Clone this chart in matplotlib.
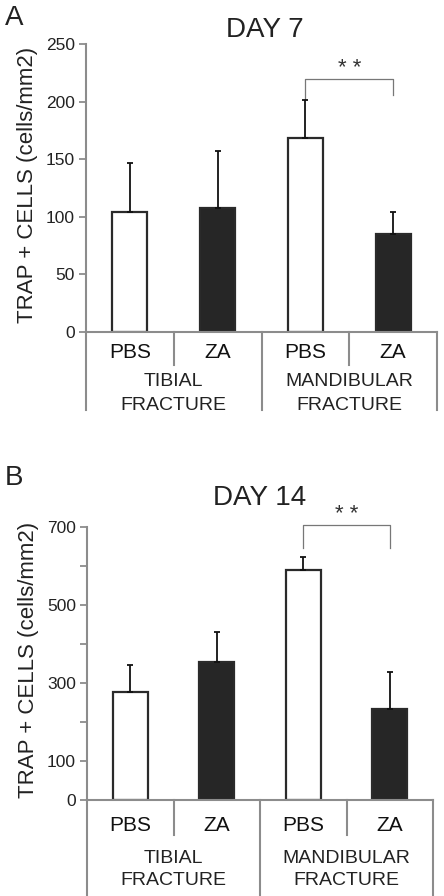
import matplotlib
matplotlib.use("Agg")
import matplotlib.pyplot as plt
from matplotlib.transforms import offset_copy

plt.rcParams["font.family"] = ["Liberation Sans", "DejaVu Sans"]

# ---------------------------------------------------------------------------
# Data
# ---------------------------------------------------------------------------
treatments = ["PBS", "ZA", "PBS", "ZA"]
groups = [("TIBIAL", "FRACTURE"), ("MANDIBULAR", "FRACTURE")]
bar_fill = ["white", "#262626", "white", "#262626"]

day7_mean = [104, 108, 168, 85]
day7_err = [43, 49, 33, 19]
day7_ticks = [0, 50, 100, 150, 200, 250]
day7_ticklabels = ["0", "50", "100", "150", "200", "250"]
day7_sig = [201, 220, 206]          # left leg bottom, bracket top, right leg bottom

day14_mean = [278, 355, 590, 233]
day14_err = [67, 75, 33, 96]
day14_ticks = [0, 100, 200, 300, 400, 500, 600, 700]
day14_ticklabels = ["0", "100", "", "300", "", "500", "", "700"]
day14_sig = [646, 705, 646]

W, H = 444, 896
GRAY = "#8c8c8c"
DARK = "#2a2a2a"

fig = plt.figure(figsize=(W / 100, H / 100), dpi=100)


def add_axes(left, right, top, bottom):
    return fig.add_axes([left / W, 1 - bottom / H, (right - left) / W, (bottom - top) / H])


def below(ax, px):
    # x in data, y offset px below the x axis line
    return offset_copy(ax.get_xaxis_transform(), fig=fig, y=-px * 0.72, units="points")


def draw_panel(ax, means, errs, ticks, ticklabels, sig, ylim, hpx, lab_px, short_px, long_px):
    x = [i + 0.5 for i in range(len(means))]
    ax.bar(x, means, width=0.4, color=bar_fill, edgecolor=DARK, linewidth=1.6, zorder=2)
    ax.errorbar(x, means, yerr=[[0] * len(errs), errs], fmt="none", ecolor="#111111",
                elinewidth=1.3, capsize=2.5, capthick=1.3, zorder=3)

    ax.set_xlim(0, 4)
    ax.set_ylim(*ylim)
    ax.set_xticks([])
    ax.set_yticks(ticks)
    ax.set_yticklabels(ticklabels, fontsize=12.5, color="#222222")
    ax.tick_params(axis="y", length=5, width=1.3, color=GRAY, pad=3)
    for s in ["top", "right"]:
        ax.spines[s].set_visible(False)
    for s in ["left", "bottom"]:
        ax.spines[s].set_color(GRAY)
        ax.spines[s].set_linewidth(1.5)
    ax.set_ylabel("TRAP + CELLS (cells/mm2)", fontsize=16, color="#222222")
    ax.yaxis.set_label_coords(-0.138, 0.512)

    # significance bracket
    ax.plot([x[2], x[2], x[3], x[3]], [sig[0], sig[1], sig[1], sig[2]],
            color="#777777", linewidth=0.9, clip_on=False)
    ax.text((x[2] + x[3]) / 2, sig[1], "* *", ha="center", va="bottom", fontsize=16,
            color="#333333", clip_on=False)

    # category separators below the axis
    xt = ax.get_xaxis_transform()
    for sx in [0, 1, 2, 3, 4]:
        L = long_px if sx % 2 == 0 else short_px
        ax.plot([sx, sx], [0, -L / hpx], color=GRAY, linewidth=1.5,
                transform=xt, clip_on=False)

    # labels below the axis
    for xi, t in zip(x, treatments):
        ax.text(xi, 0, t, transform=below(ax, lab_px[0]), ha="center", va="center",
                fontsize=15, color="#111111")
    for gx, (g1, g2) in zip([1, 3], groups):
        ax.text(gx, 0, g1, transform=below(ax, lab_px[1]), ha="center", va="center",
                fontsize=14, color="#222222")
        ax.text(gx, 0, g2, transform=below(ax, lab_px[2]), ha="center", va="center",
                fontsize=14, color="#222222")


axA = add_axes(86, 437, 44, 332)
draw_panel(axA, day7_mean, day7_err, day7_ticks, day7_ticklabels, day7_sig,
           (0, 250), 288, (20, 50, 73), 33, 78)

axB = add_axes(87, 433, 527, 800)
draw_panel(axB, day14_mean, day14_err, day14_ticks, day14_ticklabels, day14_sig,
           (0, 700), 273, (25, 58, 80), 35, 100)

fig.text(265 / W, 1 - 37 / H, "DAY 7", ha="center", va="baseline", fontsize=20, color="#222222")
fig.text(260 / W, 1 - 505 / H, "DAY 14", ha="center", va="baseline", fontsize=20, color="#222222")
fig.text(5 / W, 1 - 25 / H, "A", ha="left", va="baseline", fontsize=20, color="#222222")
fig.text(5 / W, 1 - 485 / H, "B", ha="left", va="baseline", fontsize=20, color="#222222")

fig.savefig("out.png", dpi=100)
